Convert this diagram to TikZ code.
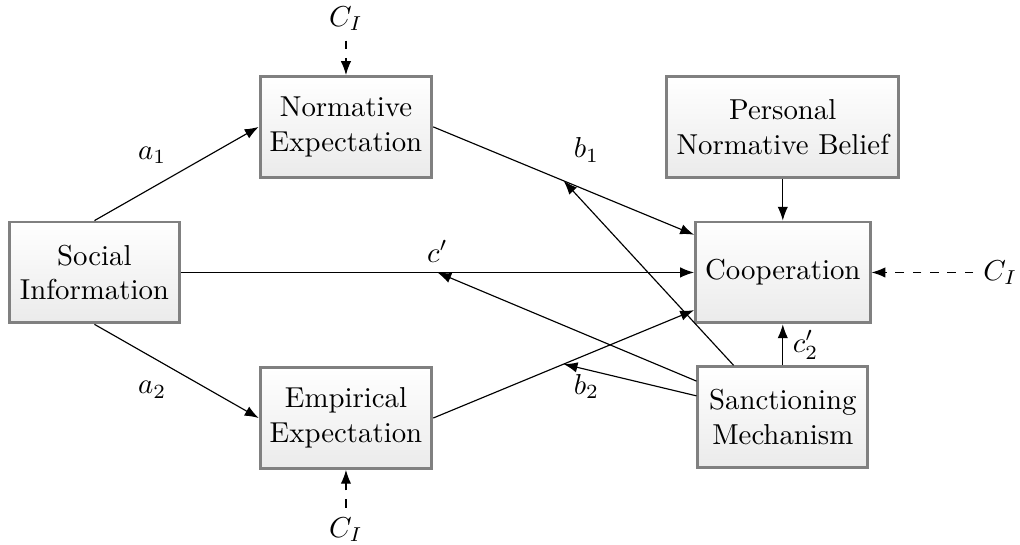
\documentclass[tikz,border=0pt]{standalone}
\usepackage{tikz}
\usetikzlibrary{arrows.meta, positioning, shadings}
\usepackage{amsmath}

\begin{document}
\begin{tikzpicture}[
        node distance=0.5cm,
        construct/.style={rectangle, draw=gray, line width=1pt, top color=white, bottom color=black!8, minimum width=2.07cm, minimum height=1.23cm, align=center},
        effect/.style={-{Latex}},
        covar/.style={-{Latex}, dashed}
    ]
        \useasboundingbox (0,0) rectangle (12.44,6.646);

        % Konstrukte
        \node[construct] (social) at (1.152,3.323) {Social\\Information};
        \node[construct, above right=0.51cm and 0.95cm of social] (norm) {Normative\\Expectation};
        \node[construct, below right=0.51cm and 0.95cm of social] (emp) {Empirical\\Expectation};
        \node[construct, right=6.26cm of social] (coop) {Cooperation};
        \node[construct, above=0.51cm of coop] (belief) {Personal\\Normative Belief};
        \node[construct, below=0.5cm of coop] (sanc) {Sanctioning\\Mechanism};

        % Kontrollvariablen
        \node[above=0.42cm of norm] (ciTop) {$C_I$};
        \node[below=0.46cm of emp] (ciBot) {$C_I$};
        \node[right=1.24cm of coop] (ciRight) {$C_I$};

        % Pfade
        \draw[effect] (social.north) -- (norm.west)
            node[midway, above left] {$a_1$};
        \draw[effect] (social.south) -- (emp.west)
            node[midway, below left] {$a_2$};
        \draw[effect] (norm.east) -- coordinate[midway] (mb1) ([yshift=0.46cm]coop.west)
            node[midway, above right, yshift=3pt] {$b_1$};
        \draw[effect] (emp.east) -- coordinate[midway] (mb2) ([yshift=-0.46cm]coop.west)
            node[midway, below right] {$b_2$};
        \draw[effect] (social.east) -- coordinate[midway] (mc) (coop.west)
            node[midway, above] {$c'$};
        \draw[effect] (sanc.north) -- (coop.south)
            node[midway, right] {$c'_2$};
        \draw[effect] (belief.south) -- (coop.north);

        % Moderation
        \draw[effect] ([xshift=-0.6cm]sanc.north) -- (mb1);
        \draw[effect] ([yshift=0.44cm]sanc.west) -- (mc);
        \draw[effect] ([yshift=0.26cm]sanc.west) -- (mb2);

        % Kontrollen
        \draw[covar] (ciTop) -- (norm.north);
        \draw[covar] (ciBot) -- (emp.south);
        \draw[covar] (ciRight) -- (coop.east);

    \end{tikzpicture}
\end{document}
